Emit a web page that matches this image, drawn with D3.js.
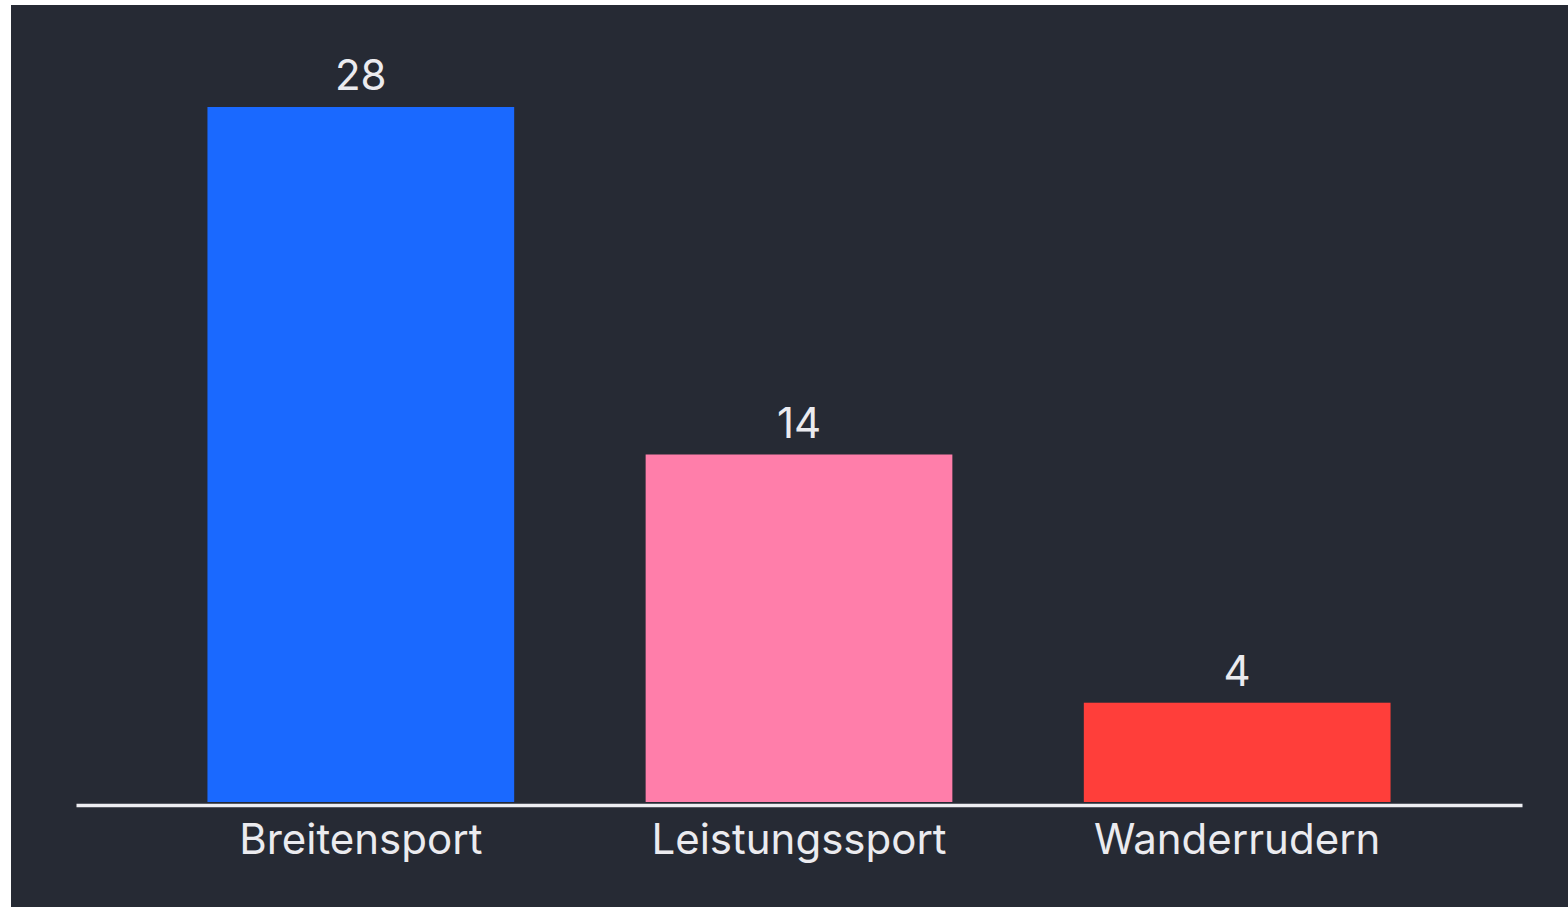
<!DOCTYPE html>
<html>
<head>
<meta charset="utf-8">
<script src="https://cdn.jsdelivr.net/npm/d3@7"></script>
<style>
  html, body { margin: 0; padding: 0; background: #ffffff; }
  svg { display: block; }
</style>
</head>
<body>
<div id="chart"></div>
<script>
// data
const categories = ["Breitensport", "Leistungssport", "Wanderrudern"];
const counts = [28, 14, 4];
const barColors = ["#1a69ff", "#ff7eaa", "#ff3e3a"];

const W = 1568, H = 907;
const margin = {top: 5, left: 11};
const svg = d3.select("#chart")
  .append("svg")
    .attr("width", W)
    .attr("height", H);

// dark panel
svg.append("rect")
  .attr("x", margin.left)
  .attr("y", margin.top)
  .attr("width", W - margin.left)
  .attr("height", H - margin.top)
  .attr("fill", "#262a34");

const x = d3.scaleBand()
  .domain(categories)
  .range([76, 1522])
  .paddingInner(0.3)
  .paddingOuter(0.3);

const y = d3.scaleLinear()
  .domain([0, 28])
  .range([802, 107]);

// bars
svg.append("g")
  .selectAll("rect")
  .data(categories)
  .enter()
  .append("rect")
    .attr("x", d => x(d))
    .attr("y", (d, i) => y(counts[i]))
    .attr("width", x.bandwidth())
    .attr("height", (d, i) => y(0) - y(counts[i]))
    .attr("fill", (d, i) => barColors[i]);

// value labels
svg.append("g")
  .selectAll("text")
  .data(categories)
  .enter()
  .append("text")
    .attr("x", d => x(d) + x.bandwidth() / 2)
    .attr("y", (d, i) => y(counts[i]) - 17)
    .attr("text-anchor", "middle")
    .attr("fill", "#ebebef")
    .style("font-family", "Inter, 'Liberation Sans', sans-serif")
    .style("font-size", "42px")
    .text((d, i) => counts[i]);

// x axis
const axis = svg.append("g")
  .attr("transform", "translate(0,805)")
  .call(d3.axisBottom(x).tickSize(0).tickPadding(19));
axis.select(".domain")
  .attr("stroke", "#eeeef2")
  .attr("stroke-width", 3.5);
axis.selectAll("text")
  .attr("fill", "#ebebef")
  .style("font-family", "Inter, 'Liberation Sans', sans-serif")
  .style("font-size", "42px");
</script>
</body>
</html>
